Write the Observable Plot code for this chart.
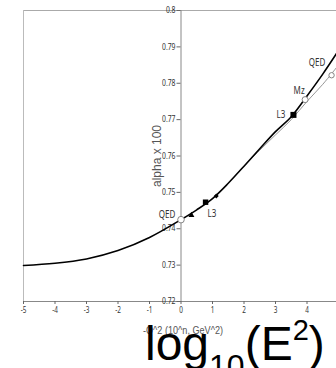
<!DOCTYPE html>
<html>
<head>
<meta charset="utf-8">
<script src="https://cdn.jsdelivr.net/npm/d3@7"></script>
<script src="https://cdn.jsdelivr.net/npm/@observablehq/plot@0.6"></script>
<style>
  html, body { margin: 0; padding: 0; background: #fff; }
  #chart svg { display: block; overflow: visible; }
</style>
</head>
<body>
<div id="chart"></div>
<script>
// ---- data ----
const xTicks = [-5, -4, -3, -2, -1, 0, 1, 2, 3, 4, 5];
const yTicks = [0.72, 0.73, 0.74, 0.75, 0.76, 0.77, 0.78, 0.79, 0.8];

// running alpha curve (black)
const curveN     = [-5, -4, -3, -2, -1, 0, 0.5, 1, 1.5, 2, 2.5, 3, 3.5, 4, 4.5, 5];
const curveAlpha = [0.7299, 0.7305, 0.7317, 0.7340, 0.7376, 0.7425, 0.7452, 0.7483, 0.7525, 0.7572, 0.7620, 0.7667, 0.7708, 0.7765, 0.7825, 0.7890];

// second (gray) curve at high Q^2
const grayN     = [2, 2.5, 3, 3.5, 4, 4.5, 5];
const grayAlpha = [0.7572, 0.7616, 0.7658, 0.7700, 0.7750, 0.7797, 0.7850];

// measurement markers
const openN     = [0, 3.94, 4.78];
const openAlpha = [0.7425, 0.7755, 0.7822];
const openR     = [3, 2.5, 2];
const squareN     = [0.78, 3.57];
const squareAlpha = [0.7473, 0.7713];
const squareR     = [2.6, 3.2];
const triN = [0.33], triAlpha = [0.7437];
const diaN = [1.12], diaAlpha = [0.7490];

// annotations
const labelText  = ["QED", "L3", "L3", "Mz", "QED"];
const labelN     = [-0.44, 0.98, 3.17, 3.75, 4.32];
const labelAlpha = [0.7439, 0.7442, 0.7714, 0.7778, 0.7855];

const xTitle = "-Q^2 (10^n, GeV^2)";
const yTitle = "alpha x 100";

// ---- tables ----
const curve = curveN.map((n, i) => ({n, a: curveAlpha[i]}));
const gray = grayN.map((n, i) => ({n, a: grayAlpha[i]}));
const opens = openN.map((n, i) => ({n, a: openAlpha[i], r: openR[i]}));
const squares = squareN.map((n, i) => ({n, a: squareAlpha[i], r: squareR[i]}));
const tris = triN.map((n, i) => ({n, a: triAlpha[i]}));
const dias = diaN.map((n, i) => ({n, a: diaAlpha[i]}));
const labels = labelText.map((t, i) => ({t, n: labelN[i], a: labelAlpha[i]}));

const sans = "'Liberation Sans', Arial, sans-serif";

const chart = Plot.plot({
  width: 336,
  height: 368,
  marginTop: 10,
  marginLeft: 23,
  marginRight: 0,
  marginBottom: 67,
  x: {domain: [-5, 5], range: [23, 338]},
  y: {domain: [0.72, 0.8], range: [301, 10]},
  style: {fontFamily: sans, background: "#fff", color: "#333"},
  marks: [
    // frame
    Plot.ruleY([0.8], {x1: -5, x2: 5, stroke: "#aaa", strokeWidth: 1}),
    Plot.ruleX([-5], {y1: 0.72, y2: 0.8, stroke: "#bbb", strokeWidth: 1}),
    Plot.ruleY([0.72], {x1: -5, x2: 5, stroke: "#888", strokeWidth: 1}),
    Plot.ruleX([0], {y1: 0.72, y2: 0.8, stroke: "#888", strokeWidth: 1}),
    // axes
    Plot.axisX(xTicks, {anchor: "bottom", tickSize: 3, tickPadding: 2.5, fontSize: 8,
      tickFormat: d => String(d), stroke: "#666", fill: "#333", label: null}),
    Plot.axisY(yTicks, {anchor: "left", dx: 157.5, tickSize: 4, tickPadding: 1.5, fontSize: 8.5,
      tickFormat: d => String(d), stroke: "#666", fill: "#333", label: null}),
    // curves
    Plot.line(gray, {x: "n", y: "a", stroke: "#8a8a8a", strokeWidth: 0.9, curve: "catmull-rom"}),
    Plot.line(curve, {x: "n", y: "a", stroke: "#000", strokeWidth: 1.6, curve: "catmull-rom"}),
    // markers
    Plot.dot(opens, {x: "n", y: "a", r: "r", fill: "#fff", stroke: "#777", strokeWidth: 0.9}),
    Plot.dot(squares, {x: "n", y: "a", r: "r", symbol: "square", fill: "#000"}),
    Plot.dot(tris, {x: "n", y: "a", r: 2.2, symbol: "triangle", fill: "#000"}),
    Plot.dot(dias, {x: "n", y: "a", r: 2.2, symbol: "diamond2", fill: "#000"}),
    // labels
    Plot.text(labels, {x: "n", y: "a", text: "t", fontSize: 10, fill: "#333", className: "ann"})
  ]
});
document.getElementById("chart").appendChild(chart);

const svg = d3.select(chart);
svg.attr("style", "display:block;overflow:visible;background:#fff");

// narrow the small texts (the reference uses a condensed face)
svg.selectAll("g[aria-label='x-axis tick label'] text, g[aria-label='y-axis tick label'] text, g[aria-label='text'] text")
  .each(function() {
    const w = this.getComputedTextLength();
    this.setAttribute("textLength", (w * 0.8).toFixed(2));
    this.setAttribute("lengthAdjust", "spacingAndGlyphs");
  });

// axis titles
svg.append("text")
  .attr("transform", "translate(161,156) rotate(-90)")
  .attr("text-anchor", "middle")
  .attr("font-family", sans)
  .attr("font-size", 12)
  .attr("fill", "#555")
  .text(yTitle);
svg.append("text")
  .attr("x", 183).attr("y", 334)
  .attr("text-anchor", "middle")
  .attr("font-family", sans)
  .attr("font-size", 10.5)
  .attr("textLength", 80)
  .attr("lengthAdjust", "spacingAndGlyphs")
  .attr("fill", "#555")
  .text(xTitle);
// big caption
const cap = svg.append("text")
  .attr("x", 145).attr("y", 360)
  .attr("text-anchor", "start")
  .attr("font-family", sans)
  .attr("font-size", 48)
  .attr("fill", "#000");
cap.append("tspan").text("log");
cap.append("tspan").attr("font-size", 32).attr("dy", 17).text("10");
cap.append("tspan").attr("dy", -17).text("(E");
cap.append("tspan").attr("font-size", 29).attr("dy", -20).text("2");
cap.append("tspan").attr("dy", 20).text(")");
</script>
</body>
</html>
